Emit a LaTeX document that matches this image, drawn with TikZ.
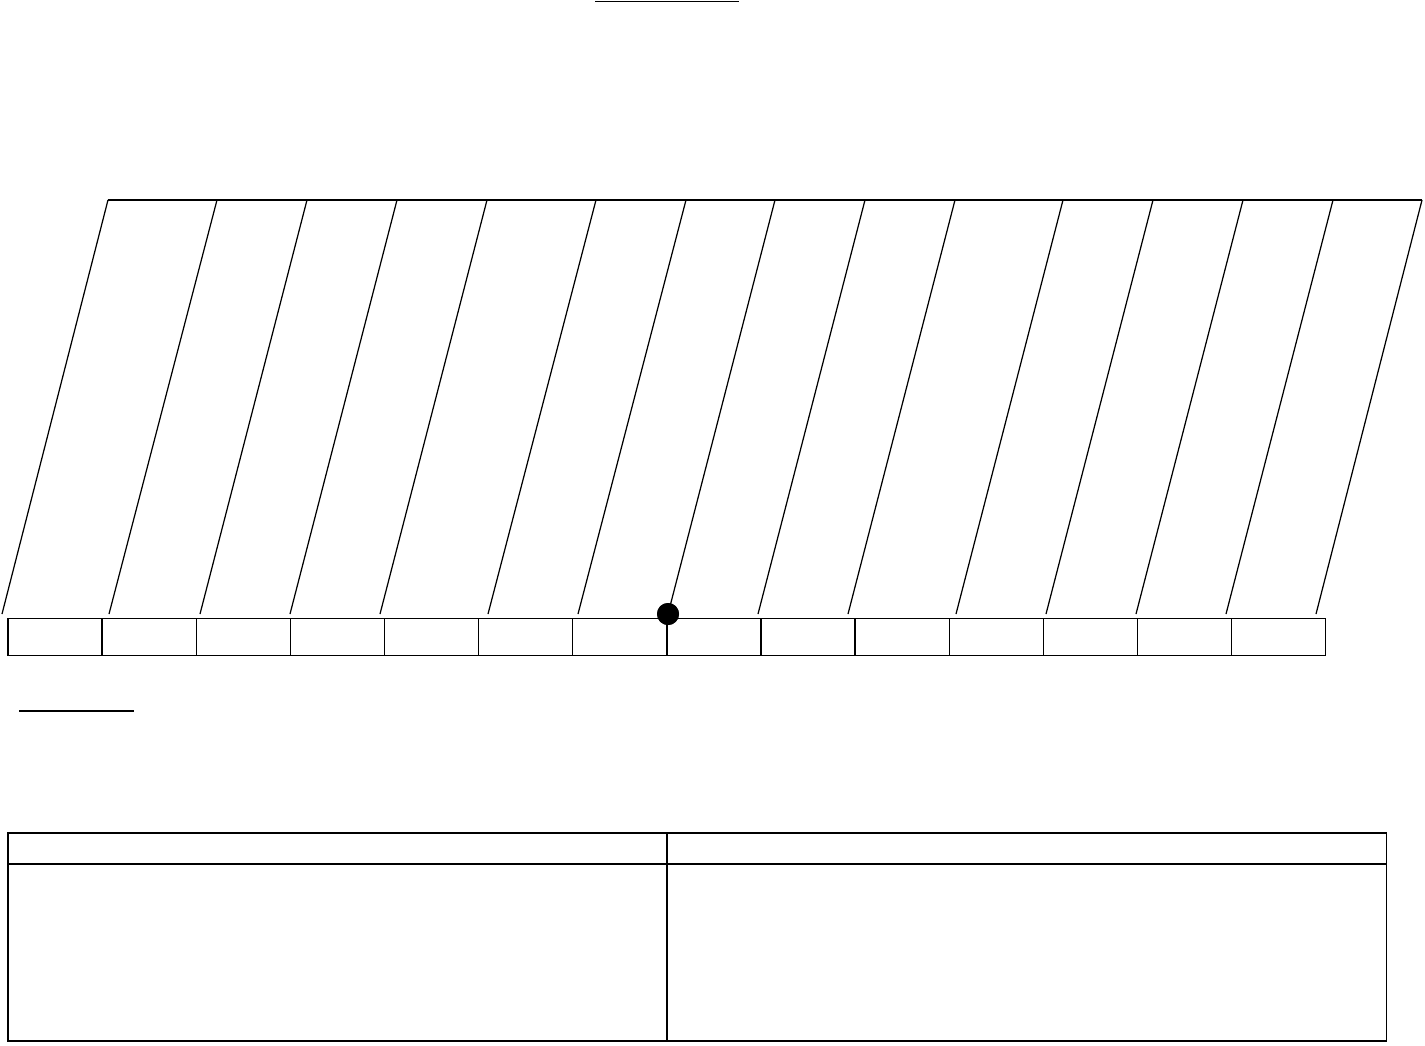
\documentclass[tikz,border=0pt]{standalone}
\usepackage{xcolor}
\usepackage{tikz}
\usetikzlibrary{positioning}

\begin{document}
\begin{tikzpicture}[
    x=0.02cm, y=-0.02cm,
    cell/.style={rectangle, draw, line width=0.8pt, outer sep=0pt, inner sep=0pt, minimum width=1.8828cm, minimum height=0.74cm},
    slant/.style={line width=0.7pt},
    pin/.style={circle, fill=black, inner sep=0pt, minimum size=0.44cm},
    tcell/.style={rectangle, draw, line width=0.8pt, outer sep=0pt, inner sep=0pt}
]
    \useasboundingbox (0,0) rectangle (1425,1045);

    % Underlines
    \draw[line width=1pt] (595,1.5) -- (739,1.5);
    \draw[line width=0.8pt] (19,711) -- (134,711);

    % Top and bottom points
    \coordinate (t1) at (108,200);  \coordinate (b1) at (2,614);
    \coordinate (t2) at (217,200);  \coordinate (b2) at (109,614);
    \coordinate (t3) at (307,200);  \coordinate (b3) at (200,614);
    \coordinate (t4) at (397,200);  \coordinate (b4) at (290,614);
    \coordinate (t5) at (487,200);  \coordinate (b5) at (380,614);
    \coordinate (t6) at (596,200);  \coordinate (b6) at (488,614);
    \coordinate (t7) at (686,200);  \coordinate (b7) at (578,614);
    \coordinate (t8) at (775,200);
    \coordinate (t9) at (865,200);  \coordinate (b9) at (758,614);
    \coordinate (t10) at (955,200); \coordinate (b10) at (848,614);
    \coordinate (t11) at (1063,200); \coordinate (b11) at (956,614);
    \coordinate (t12) at (1153,200); \coordinate (b12) at (1046,614);
    \coordinate (t13) at (1243,200); \coordinate (b13) at (1136,614);
    \coordinate (t14) at (1333,200); \coordinate (b14) at (1226,614);
    \coordinate (t15) at (1422,200); \coordinate (b15) at (1316,614);

    % Marked point
    \node[pin] (mark) at (668,614) {};

    % Cells
    \node[cell] (c1) at (55.07,637) {};
    \node[cell, right=0pt of c1] (c2) {};
    \node[cell, right=0pt of c2] (c3) {};
    \node[cell, right=0pt of c3] (c4) {};
    \node[cell, right=0pt of c4] (c5) {};
    \node[cell, right=0pt of c5] (c6) {};
    \node[cell, right=0pt of c6] (c7) {};
    \node[cell, right=0pt of c7] (c8) {};
    \node[cell, right=0pt of c8] (c9) {};
    \node[cell, right=0pt of c9] (c10) {};
    \node[cell, right=0pt of c10] (c11) {};
    \node[cell, right=0pt of c11] (c12) {};
    \node[cell, right=0pt of c12] (c13) {};
    \node[cell, right=0pt of c13] (c14) {};

    % Slanted lines
    \draw[slant] (t1) -- (t15);
    \draw[slant] (t1) -- (b1);
    \draw[slant] (t2) -- (b2);
    \draw[slant] (t3) -- (b3);
    \draw[slant] (t4) -- (b4);
    \draw[slant] (t5) -- (b5);
    \draw[slant] (t6) -- (b6);
    \draw[slant] (t7) -- (b7);
    \draw[slant] (t8) -- (mark.center);
    \draw[slant] (t9) -- (b9);
    \draw[slant] (t10) -- (b10);
    \draw[slant] (t11) -- (b11);
    \draw[slant] (t12) -- (b12);
    \draw[slant] (t13) -- (b13);
    \draw[slant] (t14) -- (b14);
    \draw[slant] (t15) -- (b15);
    \node[pin] at (mark) {};

    % Table
    \node[tcell, minimum width=13.18cm, minimum height=0.62cm, anchor=north west] (headL) at (8,833) {};
    \node[tcell, minimum width=14.4cm, minimum height=0.62cm, right=0pt of headL] (headR) {};
    \node[tcell, minimum width=13.18cm, minimum height=3.54cm, below=0pt of headL] (bodyL) {};
    \node[tcell, minimum width=14.4cm, minimum height=3.54cm, below=0pt of headR] (bodyR) {};
\end{tikzpicture}
\end{document}
